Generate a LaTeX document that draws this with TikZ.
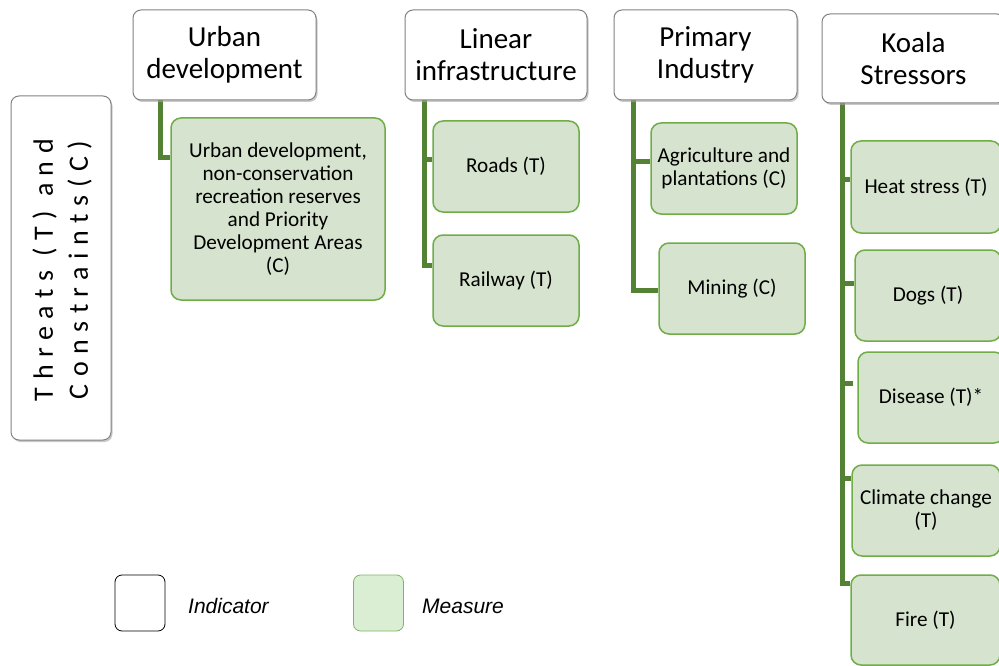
\documentclass[tikz,border=0pt]{standalone}
\usepackage{fontspec}
\setmainfont{Carlito}
\newfontfamily\spacedfont[LetterSpace=27]{Carlito}
\newfontfamily\legfont{Liberation Sans}
\usetikzlibrary{shadows,calc,backgrounds}
\definecolor{cgreen}{RGB}{84,130,53}
\definecolor{mborder}{RGB}{112,173,71}
\definecolor{mfill}{RGB}{214,227,206}
\definecolor{lfill}{RGB}{218,238,212}
\definecolor{lborder}{RGB}{130,179,102}
\definecolor{hborder}{RGB}{130,130,130}
\tikzset{
  hdr/.style={draw=hborder, line width=1pt, fill=white, rounded corners=8pt,
    drop shadow={shadow xshift=1.5pt, shadow yshift=-2pt, fill=black!35, opacity=0.6},
    align=center, inner sep=2pt, font=\fontsize{29}{32}\selectfont},
  meas/.style={draw=mborder, line width=1.5pt, fill=mfill, rounded corners=10pt,
    align=center, inner sep=2pt, font=\fontsize{21.2}{23}\selectfont},
  conn/.style={draw=cgreen, line width=5pt},
  legbox/.style={rounded corners=7pt, minimum width=50pt, minimum height=56pt},
  legtext/.style={anchor=west, inner sep=0pt, font=\legfont\itshape\fontsize{21}{24}\selectfont}
}
\begin{document}
\begin{tikzpicture}[x=1pt,y=-1pt]
\clip (0,0) rectangle (999,666);
\begin{scope}[on background layer]
\fill[white] (0,0) rectangle (999,666);
\end{scope}

% side label
\node[hdr, minimum width=100pt, minimum height=344pt] (side) at (61,268) {};
\node[rotate=90, align=center, font=\spacedfont\fontsize{28}{35}\selectfont] (sidetext) at (62,270) {Threats (T) and\\Constraints(C)};

\coordinate (uT) at (160,100);
\coordinate (lT) at (424,100);
\coordinate (pT) at (633,100);
\coordinate (kT) at (842,103);

% headers
\node[hdr, minimum width=183pt, minimum height=90pt] (urbH) at (224.5,55) {Urban\\development};
\node[hdr, minimum width=182pt, minimum height=90pt] (linH) at (496,55) {Linear\\infrastructure};
\node[hdr, minimum width=183pt, minimum height=90pt] (priH) at (705.5,55) {Primary\\Industry};
\node[hdr, minimum width=183pt, minimum height=89pt] (koaH) at (913.5,58.5) {Koala\\Stressors};

% measures
\node[meas, minimum width=214pt, minimum height=182pt] (urbM) at (278,209) {Urban development,\\non-conservation\\recreation reserves\\and Priority\\Development Areas\\(C)};
\node[meas, minimum width=146pt, minimum height=91pt] (roads) at (506,166.5) {Roads (T)};
\node[meas, minimum width=146pt, minimum height=91pt] (rail) at (506,280.5) {Railway (T)};
\node[meas, minimum width=146pt, minimum height=91pt] (agri) at (724,168.5) {Agriculture and\\plantations (C)};
\node[meas, minimum width=146pt, minimum height=91pt] (mining) at (732,288.5) {Mining (C)};
\node[meas, minimum width=150pt, minimum height=92pt] (heat) at (926,187) {Heat stress (T)};
\node[meas, minimum width=146pt, minimum height=91pt] (dogs) at (928,295.5) {Dogs (T)};
\node[meas, minimum width=146pt, minimum height=91pt] (disease) at (931,397.5) {Disease (T)*};
\node[meas, minimum width=148pt, minimum height=91pt] (climate) at (926,510.5) {Climate change\\(T)};
\node[meas, minimum width=149pt, minimum height=90pt] (fire) at (925.5,620) {Fire (T)};

% connectors (behind the boxes)
\begin{scope}[on background layer]
\draw[conn] (urbH.south -| uT) |- ($(urbM.north west)+(0,40)$);
\draw[conn] (linH.south -| lT) |- (rail.west |- 0,265);
\draw[conn] (lT |- 0,160) -- (roads.west |- 0,160);
\draw[conn] (priH.south -| pT) |- (mining.west |- 0,290);
\draw[conn] (pT |- 0,162) -- (agri.west |- 0,162);
\draw[conn] (koaH.south -| kT) |- (fire.west |- 0,583);
\draw[conn] (kT |- 0,180) -- (heat.west |- 0,180);
\draw[conn] (kT |- 0,283) -- (dogs.west |- 0,283);
\coordinate (disStub) at (853,383);
\draw[conn] (kT |- 0,383) -- (disStub);
\draw[conn] (kT |- 0,478) -- (climate.west |- 0,478);
\end{scope}

% legend
\node[legbox, draw=black, line width=0.8pt, fill=white] (legI) at (140,603) {};
\node[legtext] (legIt) at (188,606) {Indicator};
\node[legbox, draw=lborder, line width=0.8pt, fill=lfill] (legM) at (378.5,603) {};
\node[legtext] (legMt) at (422,606) {Measure};
\end{tikzpicture}
\end{document}
